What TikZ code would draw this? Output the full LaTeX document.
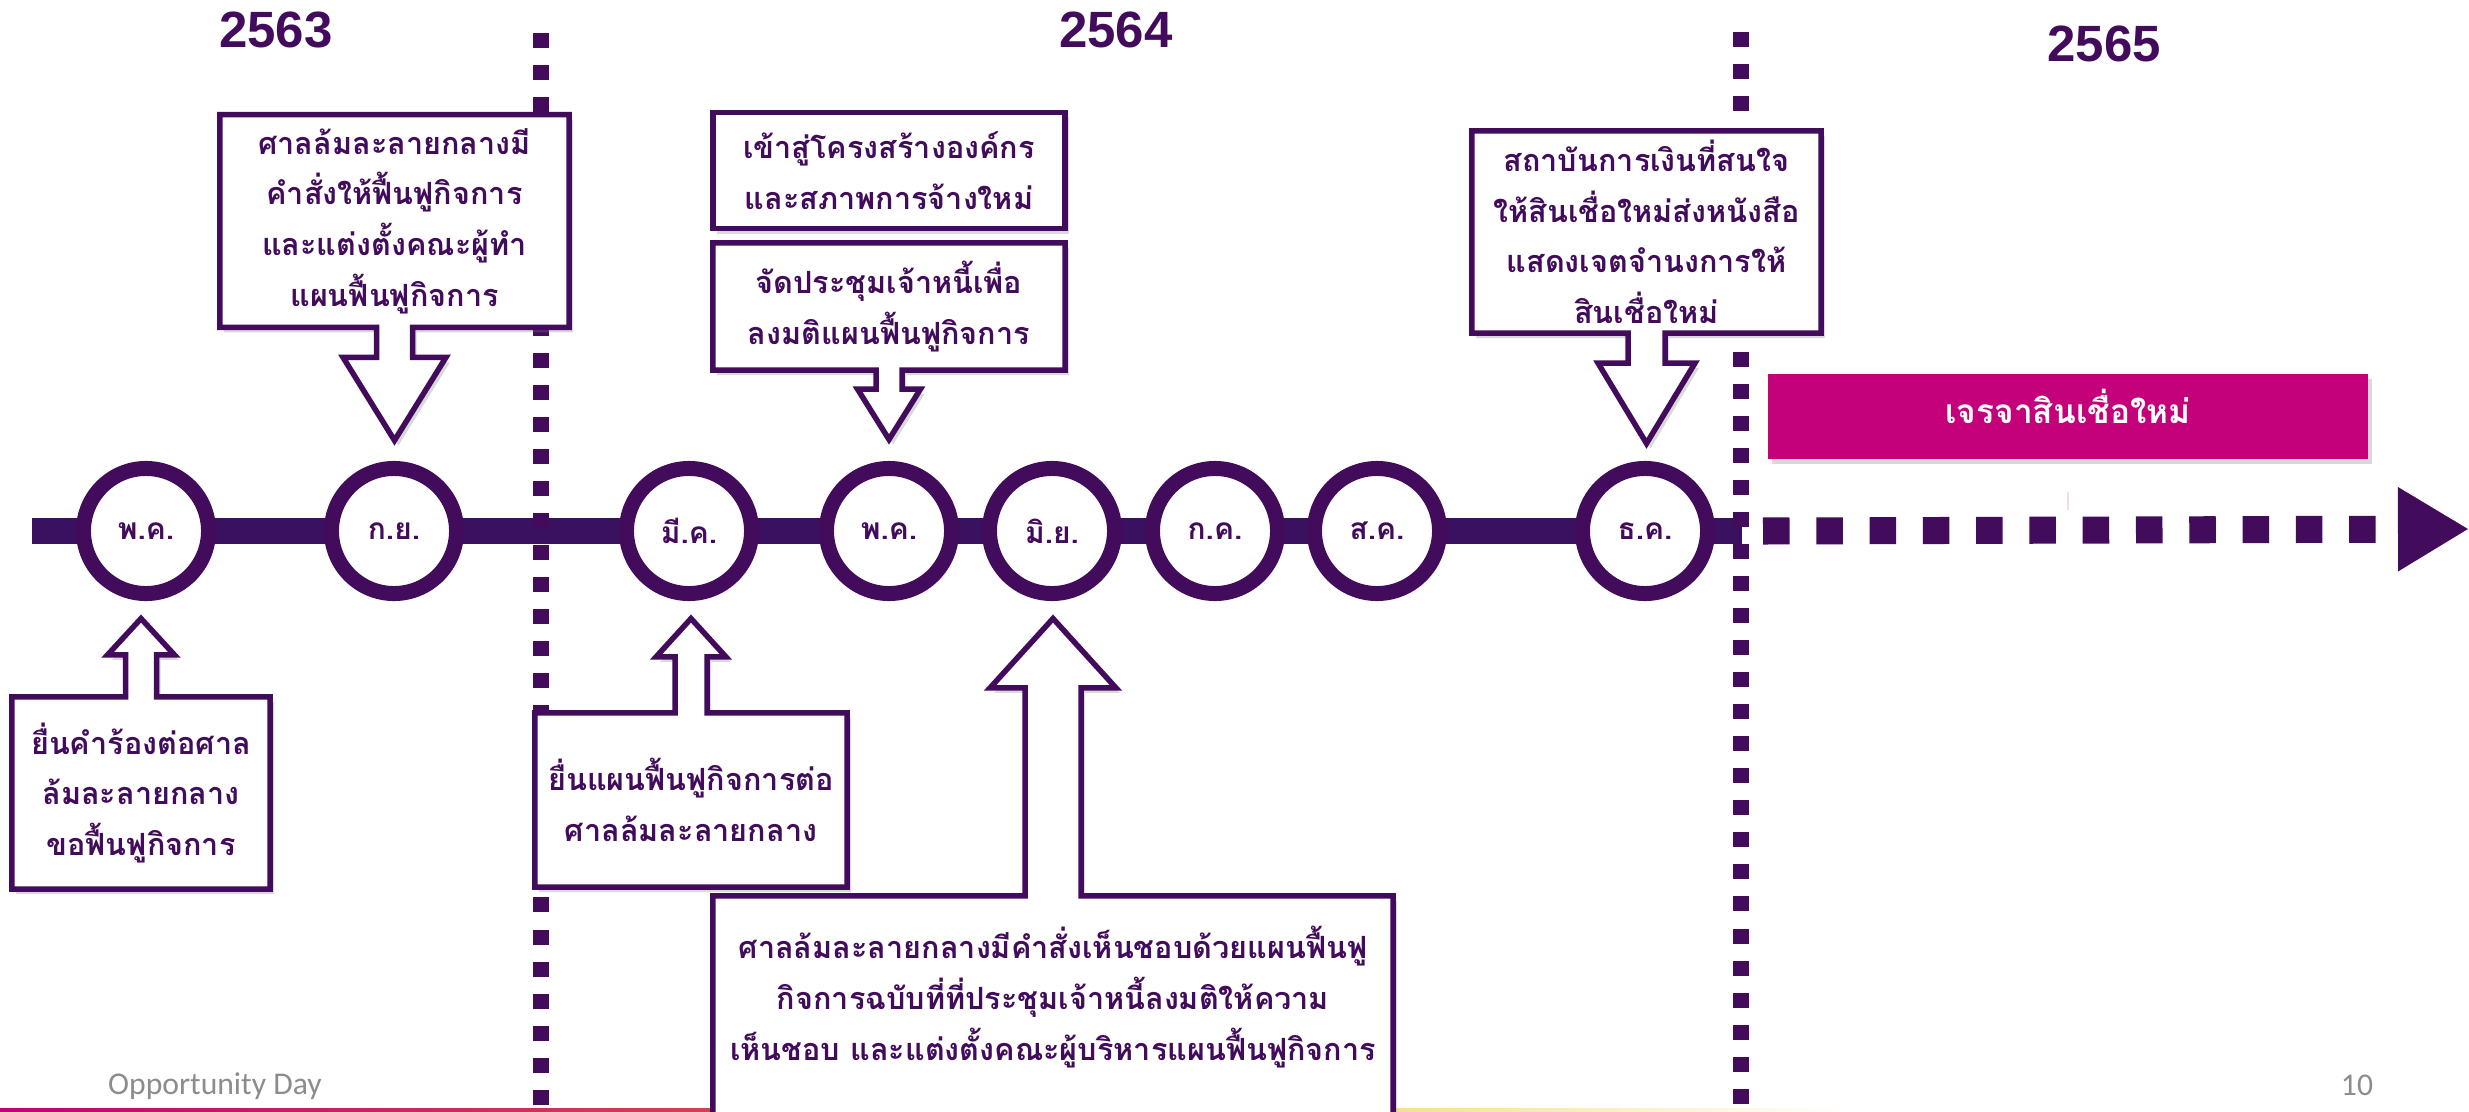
\documentclass[tikz,border=0pt]{standalone}
\usepackage{fontspec}
\newfontfamily\thaifont[Script=Thai]{Loma}
\newfontfamily\yearfont{Liberation Sans}
\newfontfamily\footfont{Carlito}
\usepackage{tikz}
\usetikzlibrary{positioning,calc,shadows,arrows.meta}
\definecolor{tlpurple}{RGB}{66,11,92}
\definecolor{tlbar}{RGB}{58,16,96}
\definecolor{tlmagenta}{RGB}{196,0,122}
\definecolor{tlorange}{RGB}{224,128,40}
\definecolor{tlyellow}{RGB}{246,224,140}
\definecolor{footgrey}{RGB}{140,140,140}
\pgfdeclarelayer{back}
\pgfdeclarelayer{mid}
\pgfsetlayers{back,mid,main}
\newcommand{\notefont}{\thaifont\bfseries\fontsize{8.7}{14.4}\selectfont}
\newcommand{\monthfont}{\thaifont\bfseries\fontsize{8.5}{10}\selectfont}
% box with a block arrow down to a month (box, month, shaft, head, neck, gap)
\newcommand{\calldown}[6]{\draw[callout] (#1.south west) |- (#1.north east) |- ($(#1.south)+(#3,0)$) -- ++(0,#5) -- ++(#4-#3,0) -- ($(#1.south |- #2.north)+(0,-#6)$) -- ($(#1.south)+(-#4,#5)$) -- ++(#4-#3,0) -- ($(#1.south)+(-#3,0)$) -- cycle;}
% same, arrow pointing up
\newcommand{\callup}[6]{\draw[callout] (#1.north west) |- (#1.south east) |- ($(#1.north)+(#3,0)$) -- ++(0,-#5) -- ++(#4-#3,0) -- ($(#1.north |- #2.south)+(0,#6)$) -- ($(#1.north)+(-#4,-#5)$) -- ++(#4-#3,0) -- ($(#1.north)+(-#3,0)$) -- cycle;}
\tikzset{
	month/.style={circle,draw=tlpurple,line width=0.15cm,fill=white,minimum size=1.25cm,inner sep=0pt,outer sep=0pt,font=\monthfont,text=tlpurple},
	note/.style={rectangle,inner sep=0pt,outer sep=0pt,align=center,font=\notefont,text=tlpurple},
	callout/.style={draw=tlpurple,line width=0.055cm,fill=white,drop shadow={shadow xshift=0.04cm,shadow yshift=-0.05cm,opacity=0.3}},
	talk/.style={rectangle,fill=tlmagenta,minimum width=6cm,minimum height=0.85cm,inner sep=0pt,text=white,text height=5.2pt,text depth=1.4pt,font=\thaifont\bfseries\fontsize{9.5}{12}\selectfont,drop shadow={shadow xshift=0.04cm,shadow yshift=-0.05cm,opacity=0.3}},
	year/.style={font=\yearfont\bfseries\fontsize{14.5}{16}\selectfont,text=tlpurple},
	foot/.style={font=\footfont\fontsize{9}{10}\selectfont,text=footgrey},
	bar/.style={draw=tlbar,line width=0.26cm},
	dots/.style={draw=tlpurple,line width=0.27cm,dash pattern=on 0.265cm off 0.2675cm},
	yearsep/.style={draw=tlpurple,line width=0.16cm,dash pattern=on 0.15cm off 0.17cm}
}
\begin{document}
\begin{tikzpicture}[x=0.01cm,y=-0.01cm]
\path[use as bounding box] (0,0) rectangle (2469,1112);
% years
\node[year] (y2563) at (276,30) {2563};
\node[year] (y2564) at (1116,30) {2564};
\node[year] (y2565) at (2104,44) {2565};
% months on the line
\node[month] (mMay1) at (146,531) {พ.ค.};
\node[month] (mSep) at (394,531) {ก.ย.};
\node[month] (mMar) at (689,531) {มี.ค.};
\node[month] (mMay2) at (889,531) {พ.ค.};
\node[month] (mJun) at (1052,531) {มิ.ย.};
\node[month] (mJul) at (1215,531) {ก.ค.};
\node[month] (mAug) at (1377,531) {ส.ค.};
\node[month] (mDec) at (1645,531) {ธ.ค.};
% notes
\node[note,minimum width=3.49cm,minimum height=2.125cm] (nKy) at (394.5,221) {ศาลล้มละลายกลางมี\\คำสั่งให้ฟื้นฟูกิจการ\\และแต่งตั้งคณะผู้ทำ\\แผนฟื้นฟูกิจการ};
\node[note,minimum width=3.52cm,minimum height=1.16cm] (nOrg) at (889,170.5) {เข้าสู่โครงสร้างองค์กร\\และสภาพการจ้างใหม่};
\node[note,minimum width=3.52cm,minimum height=1.27cm] (nVote) at (889,306.5) {จัดประชุมเจ้าหนี้เพื่อ\\ลงมติแผนฟื้นฟูกิจการ};
\node[note,minimum width=3.49cm,minimum height=2.02cm] (nLoan) at (1646.5,232) {สถาบันการเงินที่สนใจ\\ให้สินเชื่อใหม่ส่งหนังสือ\\แสดงเจตจำนงการให้\\สินเชื่อใหม่};
\node[note,minimum width=2.58cm,minimum height=1.92cm] (nFile) at (141,793) {ยื่นคำร้องต่อศาล\\ล้มละลายกลาง\\ขอฟื้นฟูกิจการ};
\node[note,minimum width=3.12cm,minimum height=1.74cm] (nPlan) at (691,800) {ยื่นแผนฟื้นฟูกิจการต่อ\\ศาลล้มละลายกลาง};
\node[note,minimum width=6.8cm,minimum height=2.02cm] (nCourt) at (1053,997) {ศาลล้มละลายกลางมีคำสั่งเห็นชอบด้วยแผนฟื้นฟู\\กิจการฉบับที่ที่ประชุมเจ้าหนี้ลงมติให้ความ\\เห็นชอบ และแต่งตั้งคณะผู้บริหารแผนฟื้นฟูกิจการ};
\node[talk] (nTalk) at (2068,416.5) {เจรจาสินเชื่อใหม่};
% footer
\node[foot] (footer) at (215,1086) {Opportunity Day};
\node[foot] (pageNo) at (2357,1085) {10};
\coordinate (barL) at (32,531);
\coordinate (barR) at (1742,531);
\coordinate (dotL) at (1763,531);
\coordinate (arrowTip) at (2469,529);
\begin{pgfonlayer}{mid}
\calldown{nKy}{mSep}{18}{51.5}{30}{28}
\calldown{nVote}{mMay2}{13}{31.5}{19}{29}
\calldown{nLoan}{mDec}{18.5}{48.5}{30}{25}
\callup{nFile}{mMay1}{15.5}{33.5}{42}{25}
\callup{nPlan}{mMar}{16}{35}{56}{25}
\draw[callout] (nCourt.north west) -- ++(0,250) -| (nCourt.north east) -- ($(nCourt.north)+(28,0)$) -- ++(0,-208) -- ++(35,0) -- ($(nCourt.north |- mJun.south)+(0,25)$) -- ($(nCourt.north)+(-63,-208)$) -- ++(35,0) -- ($(nCourt.north)+(-28,0)$) -- cycle;
\draw[callout] (nOrg.south west) rectangle (nOrg.north east);
\end{pgfonlayer}
\begin{pgfonlayer}{back}
\fill[left color=tlmagenta,right color=tlorange] (0,1108) rectangle (1393,1112);
\fill[left color=tlyellow,right color=white] (1393,1108) rectangle (1850,1112);
\draw[bar] (barL) -- (barR);
\draw[dots,-{Triangle[length=0.71cm,width=0.79cm]}] (dotL) -- (arrowTip);
\draw[tlmagenta!15,line width=0.4pt] (2068,492) -- (2068,510);
\draw[yearsep] (541,33) -- (541,1112);
\draw[yearsep] (1741,32) -- (1741,1112);
\end{pgfonlayer}
\end{tikzpicture}
\end{document}
